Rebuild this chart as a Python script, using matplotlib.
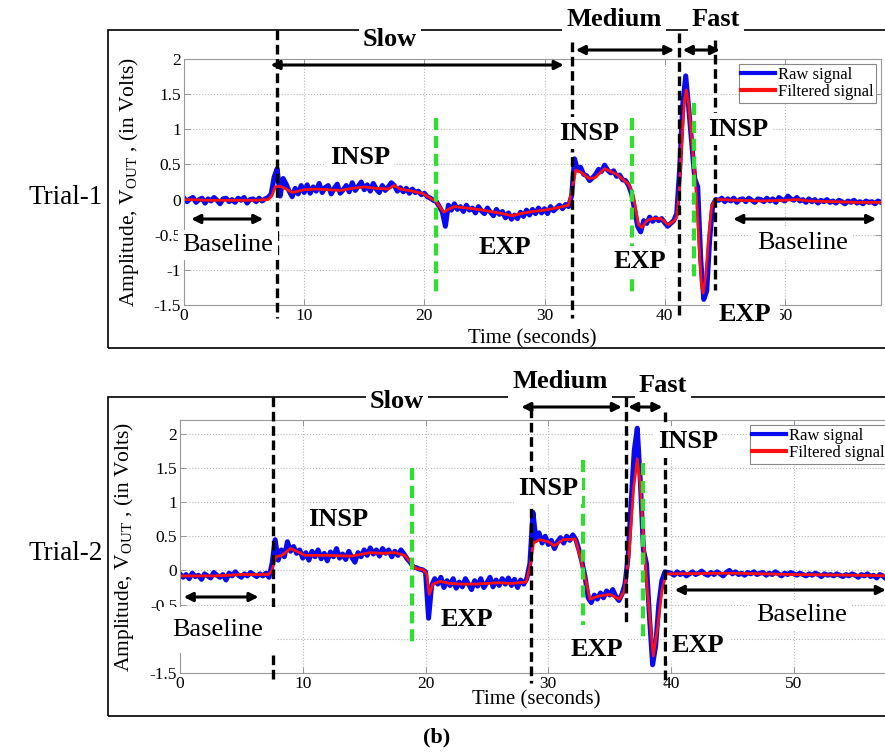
import matplotlib
matplotlib.use('Agg')
import matplotlib.pyplot as plt
import numpy as np
from matplotlib.patches import Rectangle
from matplotlib.ticker import FuncFormatter

plt.rcParams['font.family'] = ['Liberation Serif', 'DejaVu Serif']
plt.rcParams['mathtext.fontset'] = 'custom'
plt.rcParams['mathtext.rm'] = 'Liberation Serif'
plt.rcParams['axes.unicode_minus'] = False

W, H = 885, 754

# ---- data ----
step = 0.25  # raw signal sample spacing, seconds

raw1 = [
    0.02, -0.03, 0.01, 0.03, -0.04, 0.00, 0.02, -0.05, 0.01, -0.02,
    0.03, -0.01, -0.06, 0.01, 0.02, -0.03, 0.00, -0.04, 0.02, -0.01,
    0.03, -0.05, 0.00, 0.01, -0.03, 0.02, -0.02, 0.01, 0.03,
    0.08, 0.32, 0.44, 0.05, 0.30, 0.22, 0.12, 0.04, 0.16, 0.08, 0.20, 0.10,
    0.21, 0.09, 0.18, 0.12, 0.23, 0.10, 0.17, 0.20, 0.08, 0.16,
    0.22, 0.09, 0.14, 0.20, 0.11, 0.24, 0.13, 0.19, 0.25, 0.14,
    0.21, 0.12, 0.23, 0.15, 0.10, 0.20, 0.13, 0.18, 0.24, 0.20,
    0.12, 0.17, 0.11, 0.16, 0.09, 0.15, 0.10, 0.12, 0.07, 0.09,
    0.04, 0.02, -0.01, -0.03, -0.10, -0.18, -0.38, -0.08, -0.15, -0.06,
    -0.14, -0.10, -0.17, -0.08, -0.15, -0.12, -0.19, -0.10, -0.16, -0.20,
    -0.12, -0.18, -0.23, -0.14, -0.21, -0.17, -0.26, -0.19, -0.28, -0.22,
    -0.27, -0.18, -0.24, -0.15, -0.22, -0.14, -0.20, -0.12, -0.19, -0.13,
    -0.20, -0.10, -0.16, -0.12, -0.08, -0.13, -0.07, -0.10,
    0.05, 0.58, 0.42, 0.46, 0.36, 0.34, 0.27, 0.31, 0.36, 0.43,
    0.40, 0.49, 0.42, 0.38, 0.41, 0.33, 0.35, 0.28, 0.27, 0.20,
    0.08, -0.15, -0.38, -0.46, -0.30, -0.34, -0.25, -0.31, -0.26, -0.30,
    -0.27, -0.33, -0.38, -0.34, -0.30, -0.20,
    0.45, 1.35, 1.76, 1.30, 0.80, 0.30, 0.18, -0.85, -1.42, -1.30, -0.55, -0.08, 0.00,
    -0.01, 0.02, -0.03, 0.01, -0.02, 0.02, -0.04, 0.00, 0.01, -0.03,
    0.02, -0.01, -0.04, 0.01, 0.00, -0.03, 0.02, -0.02, 0.01, -0.04,
    0.03, 0.00, -0.02, 0.05, 0.01, -0.01, 0.03, -0.02, 0.00, -0.04,
    0.01, -0.03, 0.00, -0.05, -0.01, -0.03, 0.00, -0.04, -0.02, -0.05,
    -0.01, -0.03, -0.06, -0.02, -0.04, -0.01, -0.05, -0.03, -0.06, -0.02,
    -0.04, -0.03, -0.06, -0.02, -0.04,
]
filt1_t = [0, 2, 4, 6, 7, 7.3, 7.6, 8.0, 8.5, 9.0, 9.5, 10, 11, 12, 13, 14, 15, 16, 17,
           17.5, 18, 19, 19.8, 20.5, 21.0, 21.6, 22.0, 22.5, 23.5, 24.5, 25.5, 26.5, 27.3,
           28, 29, 30, 31, 32, 32.3, 32.6, 33, 33.7, 34.2, 35, 35.5, 36, 37.0, 37.4, 37.8,
           38.1, 38.5, 39, 39.7, 40.3, 40.8, 41.0, 41.2, 41.45, 41.65, 41.8, 42.0, 42.3,
           42.6, 42.85, 43.05, 43.2, 43.4, 43.65, 43.9, 44.2, 44.5, 46, 48, 50, 51, 52,
           54, 56, 58]
filt1_v = [0.0, -0.01, -0.01, -0.01, 0.0, 0.05, 0.18, 0.19, 0.15, 0.10, 0.12, 0.14, 0.15,
           0.14, 0.13, 0.16, 0.18, 0.16, 0.15, 0.20, 0.15, 0.12, 0.09, 0.02, -0.03, -0.18,
           -0.14, -0.10, -0.12, -0.14, -0.17, -0.20, -0.23, -0.20, -0.17, -0.15, -0.12,
           -0.08, 0.15, 0.42, 0.39, 0.30, 0.31, 0.44, 0.40, 0.36, 0.22, 0.05, -0.35, -0.40,
           -0.30, -0.27, -0.27, -0.36, -0.30, -0.25, 0.10, 0.90, 1.40, 1.56, 1.35, 0.75,
           0.15, -0.60, -1.20, -1.33, -1.10, -0.55, -0.10, 0.0, 0.0, -0.01, -0.02, -0.01,
           0.0, -0.02, -0.03, -0.04, -0.04]

raw2 = [
    -0.05, -0.10, -0.06, -0.12, -0.04, -0.09, -0.07, -0.13, -0.05, -0.08,
    -0.11, -0.03, -0.07, -0.10, -0.06, -0.14, -0.04, -0.08, -0.02, -0.07,
    -0.10, -0.05, -0.08, -0.03, -0.06, -0.09, -0.05, -0.08, -0.04, -0.10,
    0.10, 0.45, 0.15, 0.30, 0.20, 0.42, 0.28, 0.35, 0.25, 0.30, 0.18,
    0.26, 0.15, 0.28, 0.20, 0.30, 0.17, 0.25, 0.14, 0.27, 0.20,
    0.32, 0.18, 0.24, 0.16, 0.28, 0.19, 0.12, 0.26, 0.20, 0.30,
    0.22, 0.33, 0.24, 0.30, 0.21, 0.32, 0.25, 0.30, 0.20, 0.28,
    0.22, 0.30, 0.24, 0.17, 0.12, 0.05, 0.04, 0.02, 0.01, -0.02,
    -0.70, -0.22, -0.12, -0.20, -0.10, -0.25, -0.15, -0.22, -0.12, -0.26,
    -0.17, -0.24, -0.12, -0.20, -0.28, -0.15, -0.23, -0.12, -0.25, -0.18,
    -0.10, -0.24, -0.14, -0.22, -0.12, -0.20, -0.11, -0.22, -0.13, -0.25,
    -0.14, -0.20, -0.12,
    0.10, 0.85, 0.45, 0.55, 0.40, 0.50, 0.38, 0.44, 0.32, 0.42,
    0.48, 0.40, 0.50, 0.44, 0.52, 0.45, 0.30, 0.12, -0.10, -0.40,
    -0.47, -0.36, -0.42, -0.33, -0.40, -0.30, -0.36, -0.28, -0.38, -0.44,
    -0.35,
    -0.20, 0.20, 1.00, 1.75, 2.08, 1.30, 0.30, 0.10, -0.70, -1.38, -1.10, -0.50,
    -0.15, -0.02, -0.03,
    -0.04, -0.07, -0.02, -0.06, -0.03, -0.08, -0.05, -0.02, -0.06, -0.04,
    -0.01, -0.05, -0.07, -0.03, -0.06, -0.02, -0.05, -0.08, -0.03, 0.00,
    -0.05, -0.02, -0.06, -0.04, -0.07, -0.03, -0.05, -0.02, -0.06, -0.04,
    -0.03, -0.07, -0.04, -0.06, -0.02, -0.05, -0.08, -0.04, -0.06, -0.03,
    -0.05, -0.07, -0.04, -0.06, -0.08, -0.05, -0.07, -0.04, -0.06, -0.09,
    -0.05, -0.07, -0.06, -0.08, -0.05, -0.07, -0.09, -0.06, -0.08, -0.05,
    -0.07, -0.10, -0.06, -0.08, -0.05, -0.09, -0.07, -0.11, -0.06, -0.08,
    -0.12, -0.07, -0.09,
]
filt2_t = [0, 3, 5, 7.2, 7.5, 7.8, 8.3, 9.0, 9.5, 10.2, 12, 14, 15.5, 16.5, 17.5, 18.3,
           18.8, 19.2, 19.8, 20.1, 20.3, 20.6, 21.2, 22, 23, 24, 25, 26, 27, 28.2, 28.5,
           28.8, 29.3, 30, 30.5, 31.2, 32.2, 32.6, 33.0, 33.4, 34, 35, 35.8, 36.2, 36.6,
           36.95, 37.25, 37.5, 37.8, 38.1, 38.55, 38.9, 39.25, 39.6, 40, 45, 50, 55, 58]
filt2_v = [-0.08, -0.08, -0.06, -0.06, 0.0, 0.20, 0.22, 0.32, 0.28, 0.22, 0.22, 0.21,
           0.26, 0.25, 0.26, 0.22, 0.12, 0.03, 0.01, -0.05, -0.35, -0.20, -0.16, -0.19,
           -0.20, -0.20, -0.19, -0.18, -0.19, -0.17, 0.05, 0.40, 0.45, 0.42, 0.36, 0.45,
           0.46, 0.20, -0.10, -0.42, -0.38, -0.35, -0.42, -0.30, 0.30, 1.20, 1.63, 1.25,
           0.35, -0.35, -1.25, -0.85, -0.30, -0.05, -0.05, -0.04, -0.06, -0.07, -0.08]

xticks = [0, 10, 20, 30, 40, 50]
yticks = [-1.5, -1, -0.5, 0, 0.5, 1, 1.5, 2]

BLUE = '#0a0af0'
RED = '#ff1010'
GREEN = '#2ee02e'

fig = plt.figure(figsize=(W / 100, H / 100), dpi=100)


def add_panel(left, top, right, bottom, ylim, raw, ft, fv, ylab_x, xlab_y):
    ax = fig.add_axes([left / W, 1 - bottom / H, (right - left) / W, (bottom - top) / H])
    t = np.arange(len(raw)) * step
    ax.plot(t, raw, color=BLUE, lw=3.6, label='Raw signal', zorder=2)
    ax.plot(ft, fv, color=RED, lw=2.0, label='Filtered signal', zorder=2.1)
    ax.set_xlim(0, 58)
    ax.set_ylim(*ylim)
    ax.set_xticks(xticks)
    ax.set_yticks(yticks)
    fmt = FuncFormatter(lambda v, p: '%g' % v)
    ax.xaxis.set_major_formatter(fmt)
    ax.yaxis.set_major_formatter(fmt)
    ax.tick_params(direction='in', length=4, width=0.6, color='#888888',
                   labelsize=12.5, pad=2, top=True, right=True)
    ax.grid(True, linestyle=':', color='#b8b8b8', lw=0.8)
    for s in ax.spines.values():
        s.set_color('#999999')
        s.set_linewidth(0.8)
    ax.set_ylabel('Amplitude, V$_{\\mathrm{OUT}}$ , (in Volts)', fontsize=15.5)
    ax.yaxis.set_label_coords(ylab_x, 0.5)
    ax.set_xlabel('Time (seconds)', fontsize=15)
    ax.xaxis.set_label_coords(0.5, xlab_y)
    leg = ax.legend(loc='upper right', fontsize=12, fancybox=False, edgecolor='#888888',
                    framealpha=1, handlelength=2.0, handletextpad=0.2, borderpad=0.15,
                    labelspacing=0.1, borderaxespad=0.3)
    leg.get_frame().set_linewidth(0.8)
    for ln in leg.get_lines():
        ln.set_linewidth(3)
    return ax


def ydat(ax, ypx):
    return ax.transData.inverted().transform((0, H - ypx))[1]


def vline(ax, x, y0, y1, color, lw):
    ax.plot([x, x], [ydat(ax, y0), ydat(ax, y1)], color=color, lw=lw,
            dashes=(2.9, 1.4), clip_on=False, zorder=2.6)


def arrow(ax, x1, x2, ypx):
    y = ydat(ax, ypx)
    ax.annotate('', xy=(x2, y), xytext=(x1, y), annotation_clip=False,
                arrowprops=dict(arrowstyle='<|-|>', color='black', lw=2.2,
                                mutation_scale=13, shrinkA=0, shrinkB=0))


def label(x, y, s, bold=False, size=19, pad=3):
    fig.text(x / W, 1 - y / H, s, ha='center', va='center', fontsize=size,
             fontweight='bold' if bold else 'normal', zorder=5,
             bbox=dict(facecolor='white', edgecolor='none', pad=pad))


# outer frames
for top, bottom in [(30, 348), (397, 716)]:
    fig.add_artist(Rectangle((108 / W, 1 - bottom / H), (892 - 108) / W, (bottom - top) / H,
                             transform=fig.transFigure, fill=False, edgecolor='black',
                             lw=1.2, zorder=-1))

# ---- Trial 1 ----
ax1 = add_panel(184, 59, 881, 305, (-1.5, 2), raw1, filt1_t, filt1_v, -0.062, -0.1)
for x, y0, y1 in [(7.7, 30, 318), (32.3, 42, 318), (41.2, 33, 318), (44.2, 40, 290)]:
    vline(ax1, x, y0, y1, 'black', 2.4)
for x, y0, y1 in [(21.0, 118, 295), (37.3, 118, 293), (42.4, 103, 278)]:
    vline(ax1, x, y0, y1, GREEN, 3.0)
for x1, x2, y in [(0.6, 6.6, 219), (7.2, 31.6, 65), (32.6, 40.8, 50),
                  (41.5, 44.6, 50), (45.7, 57.6, 219)]:
    arrow(ax1, x1, x2, y)

label(390, 40, 'Slow', True)
label(614, 20, 'Medium', True)
label(716, 20, 'Fast', True)
label(360, 157, 'INSP', True)
label(589, 133, 'INSP', True)
label(738, 129, 'INSP', True)
label(505, 247, 'EXP', True)
label(640, 262, 'EXP', True)
label(745, 315, 'EXP', True, pad=6)
label(228, 245, 'Baseline')
label(803, 243, 'Baseline')
label(66, 197, 'Trial-1', size=19.5)

# ---- Trial 2 ----
ax2 = add_panel(180, 420, 892, 673, (-1.5, 2.2), raw2, filt2_t, filt2_v, -0.062, -0.068)
# the "-1" label sits under the Baseline text in the original
ax2.yaxis.get_major_ticks()[1].label1.set_visible(False)
for x, y0, y1 in [(7.6, 397, 683), (28.6, 408, 683), (36.3, 397, 625), (39.5, 412, 685)]:
    vline(ax2, x, y0, y1, 'black', 2.4)
for x, y0, y1 in [(18.9, 468, 645), (32.8, 460, 625), (37.7, 463, 640)]:
    vline(ax2, x, y0, y1, GREEN, 3.0)
for x1, x2, y in [(0.3, 6.4, 597), (27.8, 36.0, 407), (36.5, 39.3, 407), (40.3, 57.5, 590)]:
    arrow(ax2, x1, x2, y)

label(397, 402, 'Slow', True)
label(560, 382, 'Medium', True)
label(663, 385, 'Fast', True)
label(338, 520, 'INSP', True)
label(548, 488, 'INSP', True)
label(688, 442, 'INSP', True)
label(467, 620, 'EXP', True)
label(597, 650, 'EXP', True)
label(698, 645, 'EXP', True)
label(218, 630, 'Baseline', pad=9)
label(802, 615, 'Baseline')
label(66, 553, 'Trial-2', size=19.5)

fig.text(437 / W, 1 - 737 / H, '(b)', ha='center', va='center', fontsize=16, fontweight='bold')

plt.savefig('out.png', dpi=100)
